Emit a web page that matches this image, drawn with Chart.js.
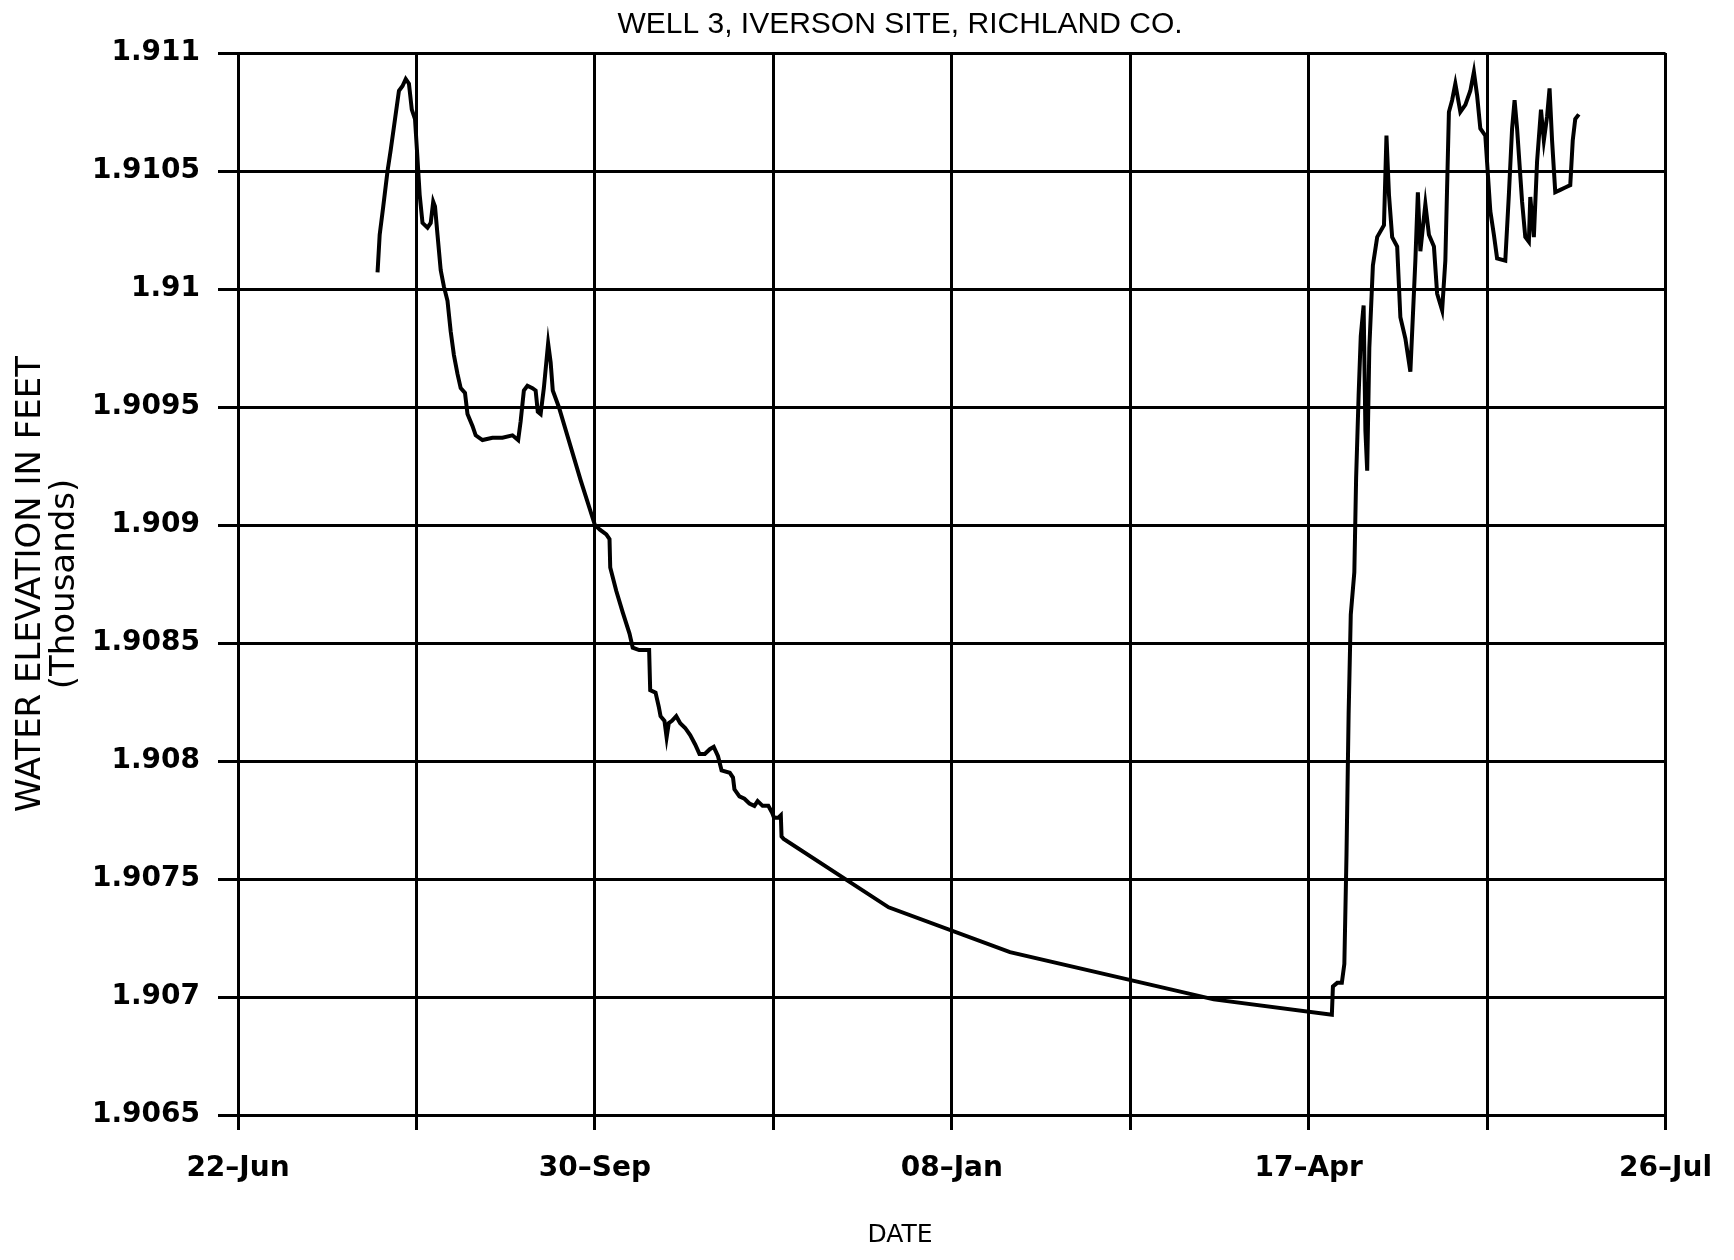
<!DOCTYPE html>
<html>
<head>
<meta charset="utf-8">
<title>Well 3, Iverson Site, Richland Co.</title>
<script src="https://cdn.jsdelivr.net/npm/chart.js@4.4.1/dist/chart.umd.min.js"></script>
<style>
  html, body { margin: 0; padding: 0; background: #fff; }
  #wrap { width: 1734px; height: 1260px; }
</style>
</head>
<body>
<div id="wrap"><canvas id="wellChart" width="1734" height="1260"></canvas></div>
<script>
const chartTitle = "WELL 3, IVERSON SITE, RICHLAND CO.";
const xTitle = "DATE";
const yTitle = ["WATER ELEVATION IN FEET", "(Thousands)"];

// x is days counted from 22-Jun
const xTickDays = [0, 100, 200, 300, 400];
const xTickLabels = ["22–Jun", "30–Sep", "08–Jan", "17–Apr", "26–Jul"];

const days = [
  39.1, 39.7, 40.7, 41.9, 42.8, 44.0, 45.1, 46.1, 47.0, 47.9,
  48.7, 49.6, 50.3, 50.9, 51.7, 53.1, 54.0, 54.7, 55.2, 55.9,
  56.8, 57.7, 58.7, 59.6, 60.5, 61.5, 62.4, 63.6, 64.3, 65.7,
  66.6, 68.5, 71.3, 74.1, 76.9, 78.5, 79.2, 80.1, 81.1, 82.5,
  83.4, 84.0, 84.8, 85.7, 86.9, 87.6, 88.2, 89.9, 96.0, 100.0,
  101.4, 103.2, 104.1, 104.3, 106.0, 107.8, 109.7, 110.6, 112.4, 115.2,
  115.5, 117.0, 117.9, 118.4, 119.5, 120.1, 120.7, 121.6, 122.8, 123.9,
  125.3, 126.7, 128.1, 129.3, 130.8, 132.2, 133.3, 134.5, 135.5, 137.8,
  138.7, 139.1, 140.5, 141.9, 143.3, 144.7, 145.6, 147.0, 148.6, 149.7,
  150.2, 151.4, 152.1, 152.3, 152.9, 182.3, 216.3, 273.4, 306.5, 306.8,
  308.0, 309.3, 310.0, 310.6, 311.2, 311.8, 312.8, 313.3, 314.0, 314.6,
  315.4, 315.9, 316.4, 317.0, 318.0, 319.2, 321.1, 321.8, 322.5, 323.4,
  324.8, 325.7, 327.1, 328.5, 329.9, 330.6, 331.3, 332.7, 333.7, 335.1,
  336.0, 337.4, 338.3, 339.3, 340.2, 341.1, 342.5, 343.9, 345.3, 346.3,
  347.2, 348.1, 349.5, 350.9, 351.9, 352.8, 355.1, 356.1, 357.0, 357.7,
  358.4, 359.8, 360.7, 361.7, 362.1, 363.1, 364.0, 365.1, 365.9, 366.8,
  367.5, 368.2, 369.1, 370.5, 371.9, 373.3, 374.0, 374.7, 375.7
];

// water elevation, feet
const elevation = [
  1910.07, 1910.23, 1910.35, 1910.50, 1910.59, 1910.72, 1910.84, 1910.86, 1910.89, 1910.87,
  1910.76, 1910.72, 1910.55, 1910.40, 1910.28, 1910.26, 1910.28, 1910.37, 1910.35, 1910.23,
  1910.08, 1910.01, 1909.95, 1909.82, 1909.72, 1909.64, 1909.58, 1909.56, 1909.47, 1909.42,
  1909.38, 1909.36, 1909.37, 1909.37, 1909.38, 1909.36, 1909.44, 1909.57, 1909.59, 1909.58,
  1909.57, 1909.48, 1909.47, 1909.58, 1909.77, 1909.69, 1909.57, 1909.50, 1909.19, 1909.00,
  1908.98, 1908.96, 1908.94, 1908.82, 1908.72, 1908.63, 1908.54, 1908.48, 1908.47, 1908.47,
  1908.30, 1908.29, 1908.23, 1908.19, 1908.17, 1908.10, 1908.16, 1908.17, 1908.19, 1908.16,
  1908.14, 1908.11, 1908.07, 1908.03, 1908.03, 1908.05, 1908.06, 1908.02, 1907.96, 1907.95,
  1907.93, 1907.88, 1907.85, 1907.84, 1907.82, 1907.81, 1907.83, 1907.81, 1907.81, 1907.78,
  1907.76, 1907.76, 1907.77, 1907.68, 1907.67, 1907.38, 1907.19, 1906.99, 1906.925, 1907.045,
  1907.06, 1907.06, 1907.14, 1907.60, 1908.20, 1908.62, 1908.80, 1909.20, 1909.55, 1909.80,
  1909.93, 1909.40, 1909.23, 1909.75, 1910.10, 1910.22, 1910.27, 1910.65, 1910.40, 1910.22,
  1910.18, 1909.88, 1909.79, 1909.65, 1910.12, 1910.41, 1910.16, 1910.36, 1910.23, 1910.18,
  1909.98, 1909.91, 1910.12, 1910.75, 1910.80, 1910.87, 1910.75, 1910.78, 1910.84, 1910.92,
  1910.82, 1910.68, 1910.65, 1910.33, 1910.23, 1910.13, 1910.12, 1910.40, 1910.68, 1910.80,
  1910.68, 1910.37, 1910.22, 1910.20, 1910.39, 1910.22, 1910.54, 1910.76, 1910.63, 1910.73,
  1910.85, 1910.63, 1910.41, 1910.42, 1910.43, 1910.44, 1910.63, 1910.72, 1910.74
];

const yMin = 1906.5;
const yMax = 1911;
const yStep = 0.5;

// chart title and "DATE" sit left of the plot centre in the original
const captions = {
  id: "captions",
  afterDraw(chart) {
    let ctx = chart.ctx;
    ctx.save();
    ctx.fillStyle = "#000";
    ctx.textAlign = "center";
    ctx.textBaseline = "middle";
    ctx.font = "30px 'Liberation Sans', Arial, sans-serif";
    ctx.fillText(chartTitle, 900, 25);
    ctx.font = "25px 'DejaVu Sans', sans-serif";
    ctx.fillText(xTitle, 900, 1235);
    ctx.restore();
  }
};

let points = days.map((d, i) => ({ x: d, y: elevation[i] }));

new Chart(document.getElementById("wellChart").getContext("2d"), {
  type: "line",
  data: {
    datasets: [{
      data: points,
      borderColor: "#000",
      borderWidth: 4,
      pointRadius: 0,
      tension: 0,
      fill: false
    }]
  },
  options: {
    responsive: false,
    animation: false,
    devicePixelRatio: 1,
    layout: { padding: { top: 53, right: 66, bottom: 0, left: 0 } },
    plugins: {
      legend: { display: false },
      title: { display: false },
      tooltip: { enabled: false }
    },
    scales: {
      x: {
        type: "linear",
        min: 0,
        max: 400,
        afterBuildTicks: scale => {
          scale.ticks = [];
          for (let v = 0; v <= 400; v += 50) scale.ticks.push({ value: v });
        },
        afterFit: scale => { scale.height = 145; },
        ticks: {
          color: "#000",
          font: { family: "'DejaVu Sans', sans-serif", size: 28, weight: "bold" },
          padding: 22,
          maxRotation: 0,
          autoSkip: false,
          callback: v => {
            let i = xTickDays.indexOf(v);
            return i >= 0 ? xTickLabels[i] : "";
          }
        },
        grid: { color: "#000", lineWidth: 3, tickLength: 15, tickColor: "#000", tickWidth: 3 },
        border: { color: "#000", width: 3 }
      },
      y: {
        min: yMin,
        max: yMax,
        afterFit: scale => { scale.width = 238; },
        ticks: {
          stepSize: yStep,
          color: "#000",
          font: { family: "'DejaVu Sans', sans-serif", size: 28, weight: "bold" },
          padding: 18,
          callback: v => String(Number((v / 1000).toFixed(4)))
        },
        grid: { color: "#000", lineWidth: 3, tickLength: 20, tickColor: "#000", tickWidth: 3 },
        border: { color: "#000", width: 3 },
        title: {
          display: true,
          text: yTitle,
          color: "#000",
          font: { family: "'DejaVu Sans', sans-serif", size: 34, lineHeight: 1.0 },
          padding: { top: 14, bottom: 0 }
        }
      }
    }
  },
  plugins: [captions]
});
</script>
</body>
</html>
